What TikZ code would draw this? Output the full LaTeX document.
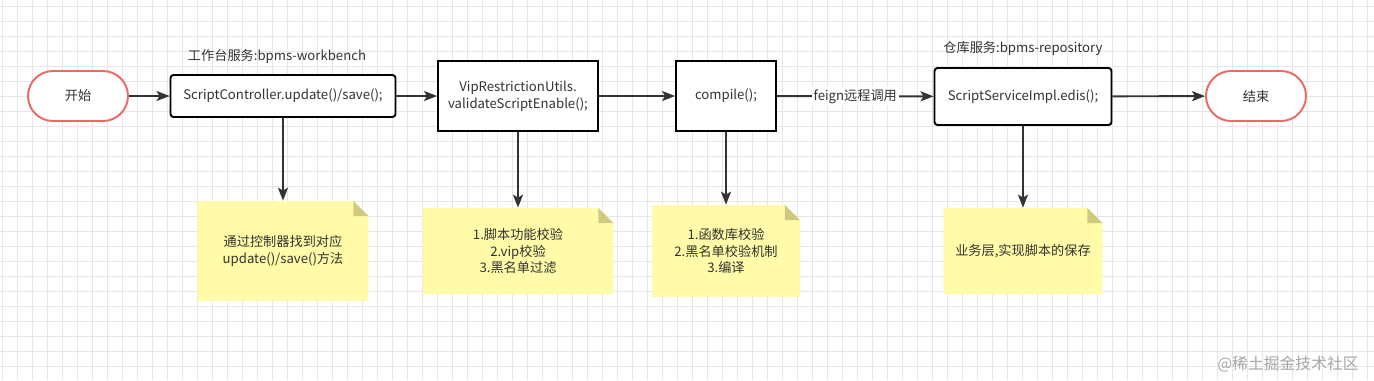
\documentclass[tikz,border=0pt]{standalone}
\usepackage{fontspec}
\setmainfont{Noto Sans CJK SC}
\usepackage{xcolor}
\usepackage{tikz}
\usetikzlibrary{arrows.meta}
\definecolor{termred}{HTML}{EA6B66}
\definecolor{notefill}{HTML}{FFFBA8}
\definecolor{foldfill}{HTML}{CFCA80}
\definecolor{linegray}{HTML}{333333}
\definecolor{textgray}{HTML}{333333}
\definecolor{gridgray}{HTML}{E6E6E6}

\begin{document}
\begin{tikzpicture}[
    x=0.02cm, y=-0.02cm,
    font=\fontsize{7.5}{9.4}\selectfont,
    term/.style={draw=termred, line width=1.1pt, rounded corners=0.5cm, minimum width=2cm, minimum height=1cm, fill=white, text=textgray},
    proc/.style={draw=black, line width=1.1pt, fill=white, align=center, inner sep=0pt, text=textgray},
    note/.style={align=center, inner sep=0pt, text=textgray,
        path picture={
            \fill[notefill] (path picture bounding box.north west) -- ([xshift=-0.3cm]path picture bounding box.north east)
                -- ([yshift=-0.3cm]path picture bounding box.north east) -- (path picture bounding box.south east)
                -- (path picture bounding box.south west) -- cycle;
            \fill[foldfill] ([xshift=-0.3cm]path picture bounding box.north east) -- ([yshift=-0.3cm]path picture bounding box.north east)
                -- ([xshift=-0.3cm, yshift=-0.3cm]path picture bounding box.north east) -- cycle;
        }},
    tag/.style={text=textgray, inner sep=1pt},
    arr/.style={-{Stealth[length=0.26cm, width=0.2cm, inset=0.06cm]}, line width=1.1pt, draw=linegray},
]
    % canvas and grid
    \fill[white] (0,0) rectangle (1374,380);
    \useasboundingbox (0,0) rectangle (1374,380);
    \foreach \gx in {0,...,91} \draw[gridgray, line width=0.5pt] ({2.5+15*\gx},0) -- ({2.5+15*\gx},380);
    \foreach \gy in {0,...,24} \draw[gridgray, line width=0.5pt] (0,{6+15*\gy}) -- (1374,{6+15*\gy});

    % main flow
    \node[term] (start) at (78, 96) {开始};
    \node[proc, rounded corners=0.06cm, minimum width=4.5cm, minimum height=0.84cm] (ctrl) at (283, 96) {ScriptController.update()/save();};
    \node[proc, minimum width=3.2cm, minimum height=1.4cm] (vip) at (518, 96) {VipRestrictionUtils.\\validateScriptEnable();};
    \node[proc, minimum width=2cm, minimum height=1.4cm] (comp) at (726, 96) {compile();};
    \node[proc, rounded corners=0.06cm, minimum width=3.54cm, minimum height=1.14cm] (svc) at (1023, 96.5) {ScriptServiceImpl.edis();};
    \node[term] (end) at (1256, 96) {结束};

    \node[tag] (wbtag) at (277, 56) {工作台服务:bpms-workbench};
    \node[tag] (repotag) at (1023, 48) {仓库服务:bpms-repository};

    % notes
    \node[note, minimum width=3.42cm, minimum height=2cm] (ctrlnote) at (283, 251) {通过控制器找到对应\\update()/save()方法};
    \node[note, minimum width=3.82cm, minimum height=1.72cm] (vipnote) at (518, 251) {1.脚本功能校验\\2.vip校验\\3.黑名单过滤};
    \node[note, minimum width=2.96cm, minimum height=1.84cm] (compnote) at (726, 251) {1.函数库校验\\2.黑名单校验机制\\3.编译};
    \node[note, minimum width=3.18cm, minimum height=1.72cm] (svcnote) at (1023, 251) {业务层,实现脚本的保存};

    \node[text=black!35, font=\fontsize{9}{11}\selectfont] (mark) at (1288, 364) {@稀土掘金技术社区};

    % connectors
    \draw[arr] (start) -- (ctrl);
    \draw[arr] (ctrl) -- (vip);
    \draw[arr] (vip) -- (comp);
    \draw[arr] (comp) -- node[tag, fill=white] {feign远程调用} (svc);
    \draw[arr] (svc) -- (end);

    \draw[arr] (ctrl) -- (ctrlnote);
    \draw[arr] (vip) -- (vipnote);
    \draw[arr] (comp) -- (compnote);
    \draw[arr] (svc) -- (svcnote);
\end{tikzpicture}
\end{document}
